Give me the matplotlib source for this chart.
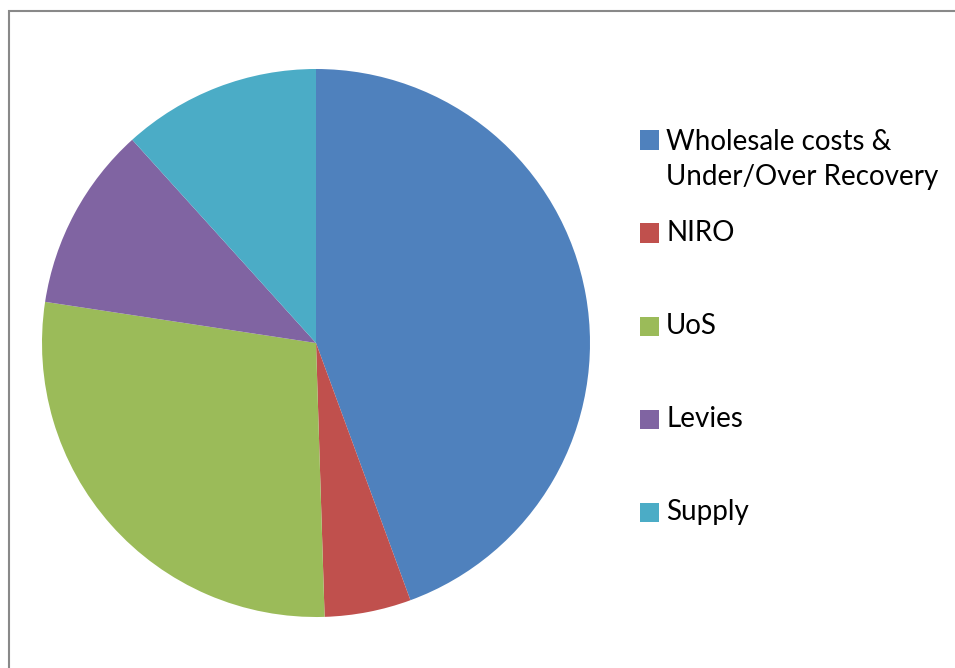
import matplotlib
matplotlib.use("Agg")
import matplotlib.pyplot as plt
from matplotlib.patches import Rectangle

categories = ["Wholesale costs &\nUnder/Over Recovery", "NIRO", "UoS", "Levies", "Supply"]
values = [44.4, 5.1, 27.9, 10.9, 11.7]
colors = ["#4F81BD", "#C0504D", "#9BBB59", "#8064A2", "#4BACC6"]

W, H = 955, 668
fig = plt.figure(figsize=(W / 100, H / 100), dpi=100)
fig.patch.set_facecolor("white")

# chart frame (cropped at right/bottom)
fig.patches.append(Rectangle((8.5 / W, -0.1), 1.2, (H - 11.5) / H + 0.1,
                             transform=fig.transFigure, fill=False,
                             edgecolor="#898989", linewidth=1.5))

cx, cy, r = 316, 343, 274
ax = fig.add_axes([(cx - r) / W, (H - cy - r) / H, 2 * r / W, 2 * r / H])
ax.pie(values, colors=colors, startangle=90, counterclock=False, radius=1,
       wedgeprops=dict(linewidth=0))
ax.set_xlim(-1, 1)
ax.set_ylim(-1, 1)
ax.set_aspect("equal")
ax.axis("off")

# legend
mx, msz = 640, 19
y0, dy = 140, 93
line_px = 37
for i, (lab, col) in enumerate(zip(categories, colors)):
    yc = y0 + i * dy
    fig.patches.append(Rectangle((mx / W, (H - yc - msz / 2) / H), msz / W, msz / H,
                                 transform=fig.transFigure, facecolor=col,
                                 edgecolor="none"))
    nlines = lab.count("\n") + 1
    fig.text(666 / W, (H - yc - 8 - (nlines - 1) * line_px) / H, lab, fontsize=20,
             family="Lato", va="baseline", ha="left", linespacing=1.42,
             color="black")

fig.savefig("out.png", dpi=100, facecolor="white")
